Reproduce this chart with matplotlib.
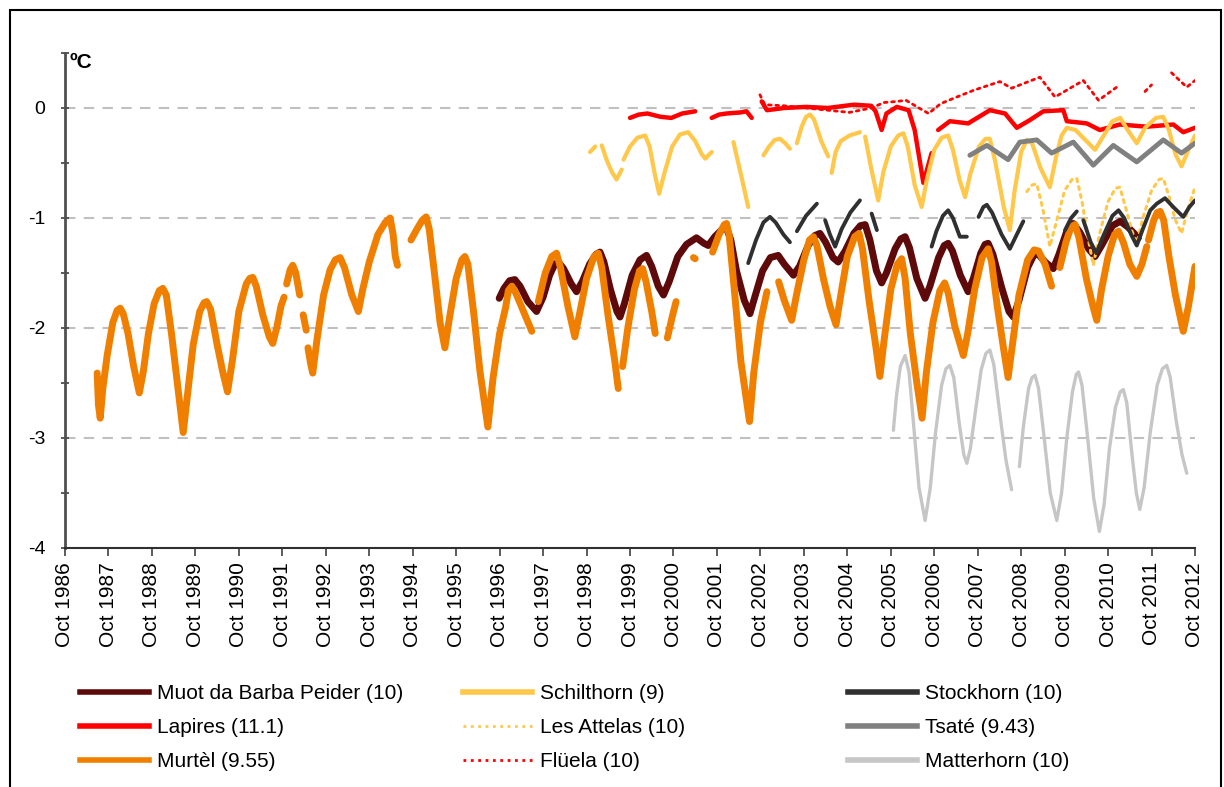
import matplotlib
matplotlib.use('Agg')
import matplotlib.pyplot as plt
from matplotlib.lines import Line2D
from matplotlib.patches import Rectangle
import numpy as np

plt.rcParams['font.family'] = ['Liberation Sans', 'DejaVu Sans']

nan = np.nan

# borehole temperatures as (decimal year, degC); nan marks a gap in the record
muot = np.array([
    [1996.74, -1.73], [1996.85, -1.64], [1996.98, -1.57], [1997.10, -1.56], [1997.22, -1.62],
    [1997.40, -1.76], [1997.60, -1.85], [1997.75, -1.72], [1997.90, -1.52], [1998.02, -1.42],
    [1998.10, -1.40], [1998.22, -1.46], [1998.40, -1.60], [1998.52, -1.67], [1998.65, -1.58],
    [1998.82, -1.42], [1998.97, -1.33], [1999.06, -1.31], [1999.15, -1.40], [1999.30, -1.65],
    [1999.45, -1.85], [1999.52, -1.90], [1999.62, -1.78], [1999.80, -1.52], [1999.98, -1.38],
    [2000.13, -1.34], [2000.25, -1.44], [2000.40, -1.62], [2000.52, -1.70], [2000.65, -1.58],
    [2000.85, -1.35], [2001.05, -1.24], [2001.28, -1.18], [2001.45, -1.23], [2001.55, -1.25],
    [2001.70, -1.17], [2001.88, -1.10], [2001.97, -1.09], [2002.07, -1.20], [2002.20, -1.48],
    [2002.38, -1.75], [2002.51, -1.87], [2002.62, -1.72], [2002.80, -1.48], [2002.98, -1.36],
    [2003.16, -1.34], [2003.30, -1.42], [2003.51, -1.52], [2003.65, -1.44], [2003.85, -1.25],
    [2004.00, -1.16], [2004.12, -1.14], [2004.25, -1.22], [2004.42, -1.36], [2004.54, -1.40],
    [2004.70, -1.30], [2004.90, -1.14], [2005.05, -1.07], [2005.16, -1.06], [2005.27, -1.20],
    [2005.42, -1.48], [2005.54, -1.59], [2005.65, -1.50], [2005.85, -1.28], [2005.98, -1.19],
    [2006.08, -1.17], [2006.18, -1.27], [2006.35, -1.55], [2006.54, -1.73], [2006.65, -1.62],
    [2006.85, -1.36], [2006.98, -1.25], [2007.07, -1.23], [2007.17, -1.30], [2007.35, -1.52],
    [2007.53, -1.67], [2007.65, -1.55], [2007.82, -1.32], [2007.92, -1.24], [2007.99, -1.23],
    [2008.10, -1.33], [2008.30, -1.63], [2008.47, -1.85], [2008.57, -1.90], [2008.70, -1.75],
    [2008.90, -1.45], [2009.05, -1.33], [2009.10, -1.31], [2009.30, -1.40], [2009.49, -1.46],
    [2009.62, -1.33], [2009.80, -1.12], [2009.95, -1.05], [2010.10, -1.13], [2010.30, -1.28],
    [2010.45, -1.35], [2010.60, -1.25], [2010.85, -1.07], [2011.03, -1.03], [2011.20, -1.08],
    [2011.45, -1.18]])

lapires = np.array([
    [1999.75, -0.09], [1999.95, -0.06], [2000.15, -0.05], [2000.45, -0.08], [2000.70, -0.09],
    [2000.95, -0.05], [2001.25, -0.03], [2001.40, nan],
    [2001.63, -0.09], [2001.80, -0.06], [2001.97, -0.05], [2002.30, -0.04], [2002.43, -0.03],
    [2002.55, -0.09], [2002.65, nan],
    [2002.78, 0.06], [2002.90, -0.02], [2003.30, 0.00], [2003.80, 0.01], [2004.30, 0.00],
    [2004.90, 0.03], [2005.30, 0.02], [2005.40, -0.03], [2005.54, -0.20], [2005.65, -0.05],
    [2005.89, 0.01], [2006.16, -0.02], [2006.30, -0.20], [2006.50, -0.68], [2006.69, -0.41],
    [2006.75, nan],
    [2006.84, -0.20], [2007.11, -0.12], [2007.53, -0.14], [2008.03, -0.02], [2008.38, -0.05],
    [2008.65, -0.18], [2008.95, -0.11], [2009.26, -0.03], [2009.72, -0.02], [2009.80, -0.12],
    [2010.26, -0.14], [2010.56, -0.20], [2011.02, -0.15], [2011.64, -0.17], [2012.25, -0.15],
    [2012.48, -0.22], [2012.75, -0.18]])

murtel = np.array([
    [1987.49, -2.41], [1987.52, -2.70], [1987.56, -2.82], [1987.62, -2.55], [1987.72, -2.25],
    [1987.85, -1.95], [1987.95, -1.84], [1988.02, -1.82], [1988.09, -1.87], [1988.20, -2.05],
    [1988.33, -2.35], [1988.46, -2.59], [1988.55, -2.40], [1988.67, -2.05], [1988.80, -1.78],
    [1988.92, -1.66], [1989.00, -1.64], [1989.08, -1.70], [1989.20, -2.05], [1989.35, -2.55],
    [1989.47, -2.95], [1989.57, -2.60], [1989.70, -2.15], [1989.85, -1.85], [1989.95, -1.77],
    [1990.01, -1.76], [1990.10, -1.83], [1990.25, -2.15], [1990.38, -2.40], [1990.49, -2.58],
    [1990.60, -2.30], [1990.75, -1.85], [1990.92, -1.60], [1991.00, -1.55], [1991.07, -1.54],
    [1991.15, -1.62], [1991.30, -1.88], [1991.45, -2.08], [1991.53, -2.14], [1991.62, -2.00],
    [1991.72, -1.80], [1991.79, -1.72], [1991.82, nan],
    [1991.85, -1.60], [1991.93, -1.47], [1991.99, -1.43], [1992.06, -1.50], [1992.15, -1.70],
    [1992.19, nan],
    [1992.23, -1.88], [1992.30, -2.02], [1992.32, nan],
    [1992.34, -2.18], [1992.40, -2.32], [1992.45, -2.41], [1992.55, -2.10], [1992.70, -1.70],
    [1992.85, -1.47], [1992.97, -1.38], [1993.08, -1.36], [1993.18, -1.45], [1993.35, -1.70],
    [1993.50, -1.85], [1993.60, -1.65], [1993.75, -1.40], [1993.95, -1.15], [1994.12, -1.04],
    [1994.23, -1.00], [1994.30, -1.15], [1994.35, -1.35], [1994.40, -1.43], [1994.55, nan],
    [1994.71, -1.20], [1994.85, -1.10], [1994.97, -1.02], [1995.06, -0.99], [1995.13, -1.10],
    [1995.25, -1.50], [1995.38, -1.95], [1995.49, -2.18], [1995.60, -1.90], [1995.75, -1.55],
    [1995.88, -1.38], [1995.95, -1.35], [1996.02, -1.42], [1996.15, -1.85], [1996.30, -2.40],
    [1996.48, -2.90], [1996.60, -2.45], [1996.75, -2.05], [1996.89, -1.81], [1996.95, -1.66],
    [1997.03, -1.62], [1997.12, -1.68], [1997.30, -1.85], [1997.49, -2.03], [1997.56, nan],
    [1997.64, -1.76], [1997.80, -1.50], [1997.95, -1.35], [1998.06, -1.32], [1998.15, -1.45],
    [1998.32, -1.80], [1998.48, -2.08], [1998.60, -1.85], [1998.75, -1.55], [1998.92, -1.35],
    [1999.02, -1.32], [1999.10, -1.45], [1999.25, -1.90], [1999.40, -2.30], [1999.48, -2.55],
    [1999.53, nan],
    [1999.58, -2.35], [1999.70, -2.00], [1999.85, -1.65], [1999.97, -1.48], [2000.04, -1.46],
    [2000.12, -1.58], [2000.25, -1.85], [2000.33, -2.05], [2000.45, nan],
    [2000.61, -2.09], [2000.72, -1.90], [2000.81, -1.76], [2001.00, nan],
    [2001.21, -1.36], [2001.25, -1.37], [2001.45, nan],
    [2001.65, -1.31], [2001.80, -1.15], [2001.92, -1.06], [2001.97, -1.05], [2002.03, -1.15],
    [2002.15, -1.65], [2002.30, -2.30], [2002.50, -2.85], [2002.60, -2.40], [2002.75, -1.95],
    [2002.90, -1.67], [2003.03, nan],
    [2003.17, -1.58], [2003.30, -1.75], [2003.47, -1.93], [2003.58, -1.70], [2003.75, -1.38],
    [2003.88, -1.20], [2003.97, -1.17], [2004.05, -1.25], [2004.20, -1.55], [2004.35, -1.80],
    [2004.49, -1.97], [2004.60, -1.70], [2004.75, -1.35], [2004.92, -1.17], [2005.02, -1.14],
    [2005.10, -1.28], [2005.25, -1.75], [2005.40, -2.15], [2005.50, -2.44], [2005.60, -2.10],
    [2005.75, -1.65], [2005.90, -1.42], [2006.00, -1.37], [2006.08, -1.55], [2006.20, -2.05],
    [2006.35, -2.50], [2006.47, -2.82], [2006.57, -2.40], [2006.72, -1.95], [2006.88, -1.66],
    [2006.99, -1.59], [2007.07, -1.68], [2007.22, -1.98], [2007.42, -2.25], [2007.52, -2.05],
    [2007.68, -1.65], [2007.85, -1.36], [2007.99, -1.28], [2008.07, -1.40], [2008.20, -1.80],
    [2008.35, -2.20], [2008.45, -2.45], [2008.55, -2.15], [2008.70, -1.70], [2008.90, -1.38],
    [2009.05, -1.29], [2009.15, -1.30], [2009.30, -1.42], [2009.45, -1.62], [2009.55, nan],
    [2009.64, -1.45], [2009.78, -1.22], [2009.90, -1.08], [2009.99, -1.06], [2010.08, -1.18],
    [2010.25, -1.55], [2010.40, -1.80], [2010.49, -1.93], [2010.60, -1.65], [2010.75, -1.35],
    [2010.90, -1.15], [2010.99, -1.12], [2011.10, -1.22], [2011.25, -1.42], [2011.41, -1.53],
    [2011.53, -1.42], [2011.64, -1.26], [2011.66, nan],
    [2011.68, -1.20], [2011.80, -1.02], [2011.88, -0.95], [2011.95, -0.94], [2012.03, -1.02],
    [2012.15, -1.35], [2012.30, -1.70], [2012.48, -2.03], [2012.60, -1.80], [2012.75, -1.44]])

schilthorn = np.array([
    [1998.83, -0.40], [1998.95, -0.35], [1999.02, nan],
    [1999.10, -0.34], [1999.21, -0.47], [1999.33, -0.58], [1999.44, -0.65], [1999.56, -0.56],
    [1999.58, nan],
    [1999.60, -0.47], [1999.75, -0.35], [1999.92, -0.27], [2000.10, -0.25], [2000.20, -0.35],
    [2000.32, -0.60], [2000.42, -0.78], [2000.55, -0.58], [2000.72, -0.35], [2000.90, -0.24],
    [2001.09, -0.22], [2001.25, -0.30], [2001.40, -0.42], [2001.48, -0.46], [2001.63, -0.40],
    [2001.90, nan],
    [2002.13, -0.31], [2002.30, -0.60], [2002.47, -0.90], [2002.65, nan],
    [2002.82, -0.43], [2002.95, -0.35], [2003.08, -0.29], [2003.20, -0.28], [2003.32, -0.32],
    [2003.43, -0.37], [2003.50, nan],
    [2003.59, -0.32], [2003.70, -0.17], [2003.80, -0.08], [2003.89, -0.06], [2003.98, -0.10],
    [2004.15, -0.30], [2004.31, -0.44], [2004.35, nan],
    [2004.39, -0.59], [2004.48, -0.40], [2004.60, -0.30], [2004.80, -0.25], [2005.04, -0.22],
    [2005.10, nan],
    [2005.16, -0.26], [2005.30, -0.55], [2005.46, -0.84], [2005.58, -0.58], [2005.75, -0.35],
    [2005.92, -0.25], [2006.04, -0.23], [2006.14, -0.35], [2006.30, -0.70], [2006.46, -0.90],
    [2006.58, -0.65], [2006.75, -0.38], [2006.92, -0.27], [2007.07, -0.25], [2007.18, -0.38],
    [2007.33, -0.65], [2007.46, -0.81], [2007.58, -0.60], [2007.78, -0.35], [2007.93, -0.28],
    [2008.03, -0.28], [2008.15, -0.48], [2008.35, -0.90], [2008.49, -1.11], [2008.60, -0.75],
    [2008.75, -0.40], [2008.88, -0.29], [2009.00, -0.32], [2009.20, -0.55], [2009.41, -0.72],
    [2009.55, -0.45], [2009.68, -0.25], [2009.80, -0.18], [2010.00, -0.20], [2010.20, -0.28],
    [2010.45, -0.38], [2010.65, -0.25], [2010.85, -0.12], [2011.03, -0.09], [2011.20, -0.20],
    [2011.41, -0.32], [2011.60, -0.18], [2011.85, -0.09], [2012.02, -0.08], [2012.15, -0.20],
    [2012.30, -0.42], [2012.44, -0.53], [2012.60, -0.38], [2012.75, -0.25]])

attelas = np.array([
    [2008.88, -0.76], [2009.00, -0.70], [2009.11, -0.69], [2009.25, -0.92], [2009.41, -1.26],
    [2009.55, -1.05], [2009.75, -0.75], [2009.92, -0.65], [2010.03, -0.64], [2010.15, -0.85],
    [2010.30, -1.20], [2010.41, -1.43], [2010.55, -1.15], [2010.75, -0.85], [2010.92, -0.73],
    [2011.02, -0.72], [2011.15, -0.90], [2011.30, -1.12], [2011.41, -1.23], [2011.55, -1.00],
    [2011.75, -0.75], [2011.92, -0.65], [2012.02, -0.64], [2012.15, -0.80], [2012.30, -1.02],
    [2012.44, -1.14], [2012.60, -0.90], [2012.75, -0.72]])

fluela = np.array([
    [2002.74, 0.12], [2002.85, 0.03], [2003.30, 0.02], [2003.80, 0.00], [2004.30, -0.02],
    [2004.80, -0.04], [2005.30, 0.00], [2005.60, 0.05], [2005.90, 0.06], [2006.10, 0.07],
    [2006.40, 0.00], [2006.62, -0.05], [2006.90, 0.04], [2007.27, 0.10], [2007.65, 0.16],
    [2008.26, 0.24], [2008.53, 0.18], [2009.18, 0.28], [2009.53, 0.10], [2010.18, 0.25],
    [2010.53, 0.07], [2010.95, 0.19], [2011.30, nan],
    [2011.60, 0.15], [2011.75, 0.21], [2012.00, nan],
    [2012.21, 0.32], [2012.56, 0.19], [2012.75, 0.25]])

stockhorn = np.array([
    [2002.47, -1.41], [2002.65, -1.20], [2002.82, -1.04], [2002.97, -0.99], [2003.10, -1.04],
    [2003.28, -1.15], [2003.43, -1.22], [2003.50, nan],
    [2003.59, -1.12], [2003.80, -0.98], [2004.05, -0.87], [2004.15, nan],
    [2004.24, -1.02], [2004.35, -1.15], [2004.47, -1.26], [2004.62, -1.10], [2004.82, -0.95],
    [2005.04, -0.84], [2005.15, nan],
    [2005.31, -0.96], [2005.43, -1.11], [2006.00, nan],
    [2006.69, -1.26], [2006.80, -1.12], [2006.95, -0.98], [2007.07, -0.93], [2007.18, -1.00],
    [2007.34, -1.17], [2007.50, -1.17], [2007.65, nan],
    [2007.77, -0.99], [2007.88, -0.90], [2007.96, -0.88], [2008.08, -0.95], [2008.30, -1.15],
    [2008.49, -1.28], [2008.65, -1.15], [2008.80, -1.03], [2009.30, nan],
    [2009.76, -1.11], [2009.90, -1.00], [2010.03, -0.94], [2010.10, nan],
    [2010.18, -1.02], [2010.35, -1.22], [2010.48, -1.32], [2010.62, -1.18], [2010.85, -0.98],
    [2010.99, -0.93], [2011.12, -1.00], [2011.28, -1.15], [2011.41, -1.25], [2011.55, -1.10],
    [2011.72, -0.93], [2011.87, -0.87], [2012.06, -0.82], [2012.25, -0.90], [2012.48, -0.99],
    [2012.62, -0.90], [2012.75, -0.84]])

tsate = np.array([
    [2007.57, -0.43], [2007.96, -0.34], [2008.45, -0.47], [2008.72, -0.31], [2009.11, -0.29],
    [2009.45, -0.41], [2009.95, -0.31], [2010.41, -0.52], [2010.87, -0.34], [2011.41, -0.49],
    [2012.02, -0.29], [2012.44, -0.41], [2012.75, -0.32]])

matterhorn = np.array([
    [2005.81, -2.93], [2005.88, -2.62], [2005.97, -2.35], [2006.08, -2.25], [2006.17, -2.40],
    [2006.28, -2.90], [2006.40, -3.45], [2006.54, -3.75], [2006.66, -3.45], [2006.78, -2.95],
    [2006.92, -2.52], [2007.02, -2.37], [2007.11, -2.34], [2007.20, -2.45], [2007.32, -2.85],
    [2007.43, -3.15], [2007.50, -3.23], [2007.58, -3.10], [2007.70, -2.75], [2007.83, -2.38],
    [2007.94, -2.23], [2008.03, -2.20], [2008.12, -2.33], [2008.25, -2.75], [2008.40, -3.20],
    [2008.53, -3.47], [2008.62, nan],
    [2008.71, -3.26], [2008.80, -2.90], [2008.92, -2.55], [2009.00, -2.45], [2009.07, -2.43],
    [2009.15, -2.55], [2009.28, -3.00], [2009.42, -3.50], [2009.57, -3.75], [2009.68, -3.50],
    [2009.80, -3.00], [2009.93, -2.58], [2010.02, -2.42], [2010.07, -2.40], [2010.15, -2.52],
    [2010.28, -3.00], [2010.42, -3.55], [2010.55, -3.85], [2010.66, -3.60], [2010.78, -3.10],
    [2010.92, -2.72], [2011.03, -2.58], [2011.10, -2.56], [2011.18, -2.68], [2011.30, -3.15],
    [2011.40, -3.50], [2011.48, -3.65], [2011.58, -3.45], [2011.72, -2.95], [2011.88, -2.52],
    [2012.00, -2.37], [2012.10, -2.34], [2012.18, -2.45], [2012.32, -2.85], [2012.45, -3.15],
    [2012.56, -3.32]])

# name, data, colour, width, style
series = [
    ('Muot da Barba Peider (10)', muot, '#5e0a0a', 5.0, '-'),
    ('Lapires (11.1)', lapires, '#ff0000', 3.2, '-'),
    ('Murtèl (9.55)', murtel, '#f07f00', 5.0, '-'),
    ('Schilthorn (9)', schilthorn, '#ffc84a', 3.0, '-'),
    ('Les Attelas (10)', attelas, '#ffc84a', 2.2, ':'),
    ('Flüela (10)', fluela, '#ff0000', 2.0, ':'),
    ('Stockhorn (10)', stockhorn, '#303030', 2.8, '-'),
    ('Tsaté (9.43)', tsate, '#808080', 3.5, '-'),
    ('Matterhorn (10)', matterhorn, '#c6c6c6', 2.4, '-'),
]

years = np.arange(1986, 2013)

fig = plt.figure(figsize=(12.24, 7.87), dpi=100)
ax = fig.add_axes([65 / 1224, 1 - 548 / 787, 1130 / 1224, 495 / 787])

handles = []
for name, d, col, lw, ls in series:
    ax.plot(d[:, 0], d[:, 1], color=col, lw=lw, ls=ls,
            solid_capstyle='round', solid_joinstyle='round', dash_capstyle='round')
    hlw = 4.0 if ls == '-' else 2.0
    handles.append(Line2D([], [], color=col, lw=hlw, ls=ls))

ax.set_xlim(1986.75, 2012.75)
ax.set_ylim(-4, 0.5)
ax.set_xticks(years + 0.75)
ax.set_xticklabels(['Oct %d' % y for y in years], rotation=90, fontsize=15)
ax.set_yticks([-4, -3, -2, -1, 0])
ax.set_yticklabels(['-4', '-3', '-2', '-1', '0'], fontsize=14)
ax.set_yticks([-3.5, -2.5, -1.5, -0.5, 0.5], minor=True)
ax.tick_params(axis='x', direction='out', length=6, width=1.2, color='#404040', pad=4)
ax.tick_params(axis='y', which='both', direction='inout', length=6, width=1.2,
               color='#404040', pad=11)

for y in [-3, -2, -1, 0]:
    ax.axhline(y, color='#c0c0c0', lw=1.5, ls=(0, (5, 4)), zorder=0)

for s in ['top', 'right']:
    ax.spines[s].set_visible(False)
ax.spines['left'].set_color('#505050')
ax.spines['left'].set_linewidth(2)
ax.spines['bottom'].set_color('#303030')
ax.spines['bottom'].set_linewidth(1.5)

ax.text(0.004, 1.0, 'ºC', transform=ax.transAxes, fontsize=15, fontweight='bold',
        ha='left', va='top')

# legend in three evenly spaced columns
for i, x0 in enumerate([80 / 1224, 463 / 1224, 848 / 1224]):
    fig.legend(handles[3 * i:3 * i + 3], [s[0] for s in series[3 * i:3 * i + 3]],
               loc='upper left', bbox_to_anchor=(x0, 1 - 684 / 787), frameon=False,
               fontsize=15, handlelength=3.3, handletextpad=0.4, labelspacing=0.72,
               borderpad=0, borderaxespad=0)

fig.patches.append(Rectangle((10 / 1224, -0.05), 1211 / 1224, 1.05 - 10 / 787,
                             transform=fig.transFigure, fill=False, ec='black', lw=1.5))

fig.savefig('out.png', dpi=100)
